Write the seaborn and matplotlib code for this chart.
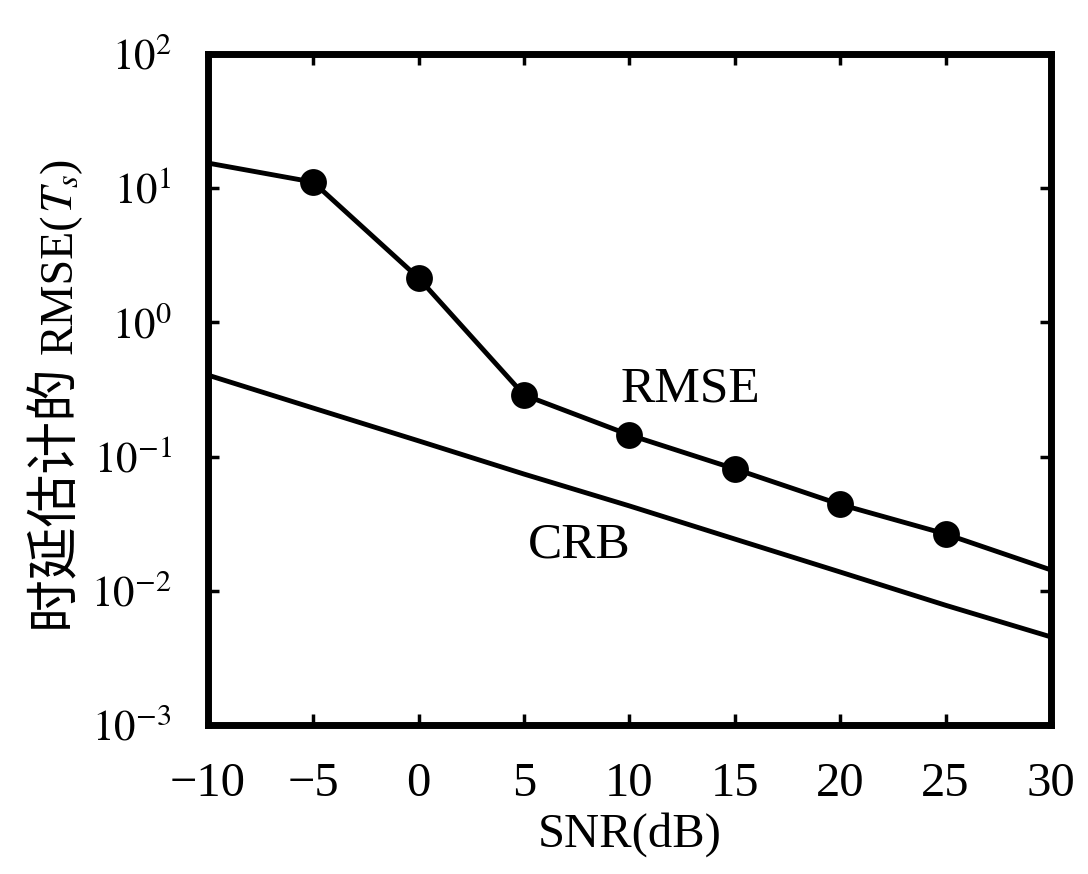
import pandas as pd
import matplotlib
matplotlib.use("Agg")
from matplotlib import pyplot as plt
import seaborn as sns

# values
snr = [-10, -5, 0, 5, 10, 15, 20, 25, 30]
rmse = [15.4, 11.1, 2.14, 0.288, 0.145, 0.081, 0.044, 0.0265, 0.0143]
crb = [0.405, 0.230, 0.131, 0.0741, 0.0429, 0.0243, 0.0138, 0.0078, 0.00453]
marker_snr = [-5, 0, 5, 10, 15, 20, 25]
x_ticks = [-10, -5, 0, 5, 10, 15, 20, 25, 30]
y_ticks = [1e-3, 1e-2, 1e-1, 1e0, 1e1, 1e2]
y_ticklabels = ['$10^{-3}$', '$10^{-2}$', '$10^{-1}$', '$10^{0}$', '$10^{1}$', '$10^{2}$']
ylabel_parts = [('时延估计的 ', 38), ('RMSE(', 33), ('$T_s$', 33), (')', 33)]

sns.set_style("ticks")
fam = ['Liberation Serif', 'Noto Sans CJK SC', 'DejaVu Sans']
plt.rcParams['font.family'] = fam
plt.rcParams['mathtext.fontset'] = 'stix'

data = pd.DataFrame({'snr': snr, 'rmse': rmse, 'crb': crb})
marks = data[data['snr'].isin(marker_snr)]

W, H = 10.88, 8.74
fig = plt.figure(figsize=(W, H), dpi=100)
ax = fig.add_axes([0.191, 0.1705, 0.775, 0.7677])

sns.lineplot(data=data, x='snr', y='rmse', color='black', linewidth=3.5, ax=ax)
sns.scatterplot(data=marks, x='snr', y='rmse', color='black', s=320, edgecolor='black', ax=ax, zorder=3)
sns.lineplot(data=data, x='snr', y='crb', color='black', linewidth=3.5, ax=ax)

ax.set_yscale('log')
ax.set_xlim(-10, 30)
ax.set_ylim(1e-3, 1e2)
ax.set_xticks(x_ticks)
ax.set_xticklabels([str(t).replace('-', '\u2212') for t in x_ticks])
ax.set_yticks(y_ticks)
ax.set_yticklabels(y_ticklabels)
ax.minorticks_off()
ax.tick_params(axis='both', which='major', direction='in', length=8, width=2.5,
               top=True, right=True, colors='black')
ax.tick_params(axis='x', pad=27, labelsize=35)
ax.tick_params(axis='y', pad=26, labelsize=31)

for s in ax.spines.values():
    s.set_visible(True)
    s.set_linewidth(5)
    s.set_color('black')

ax.set_xlabel('SNR(dB)', fontsize=35, labelpad=4, color='black')
ax.set_ylabel('')

ax.text(12.9, 0.32, 'RMSE', fontsize=37, ha='center', va='center', color='black')
ax.text(7.6, 0.022, 'CRB', fontsize=37, ha='center', va='center', color='black')

# y label built from pieces so the CJK part can fall back to Noto Sans CJK
fig.canvas.draw()
r = fig.canvas.get_renderer()
base_x = 72 / (W * 100)
y = (H * 100 - 632) / (H * 100)
for part, size in ylabel_parts:
    t = fig.text(base_x, y, part, rotation=90, rotation_mode='anchor',
                 ha='left', va='baseline', fontsize=size, family=fam, color='black')
    bb = t.get_window_extent(r)
    y = bb.y1 / (H * 100) + 0.001

fig.savefig('out.png', dpi=100, facecolor='white')
